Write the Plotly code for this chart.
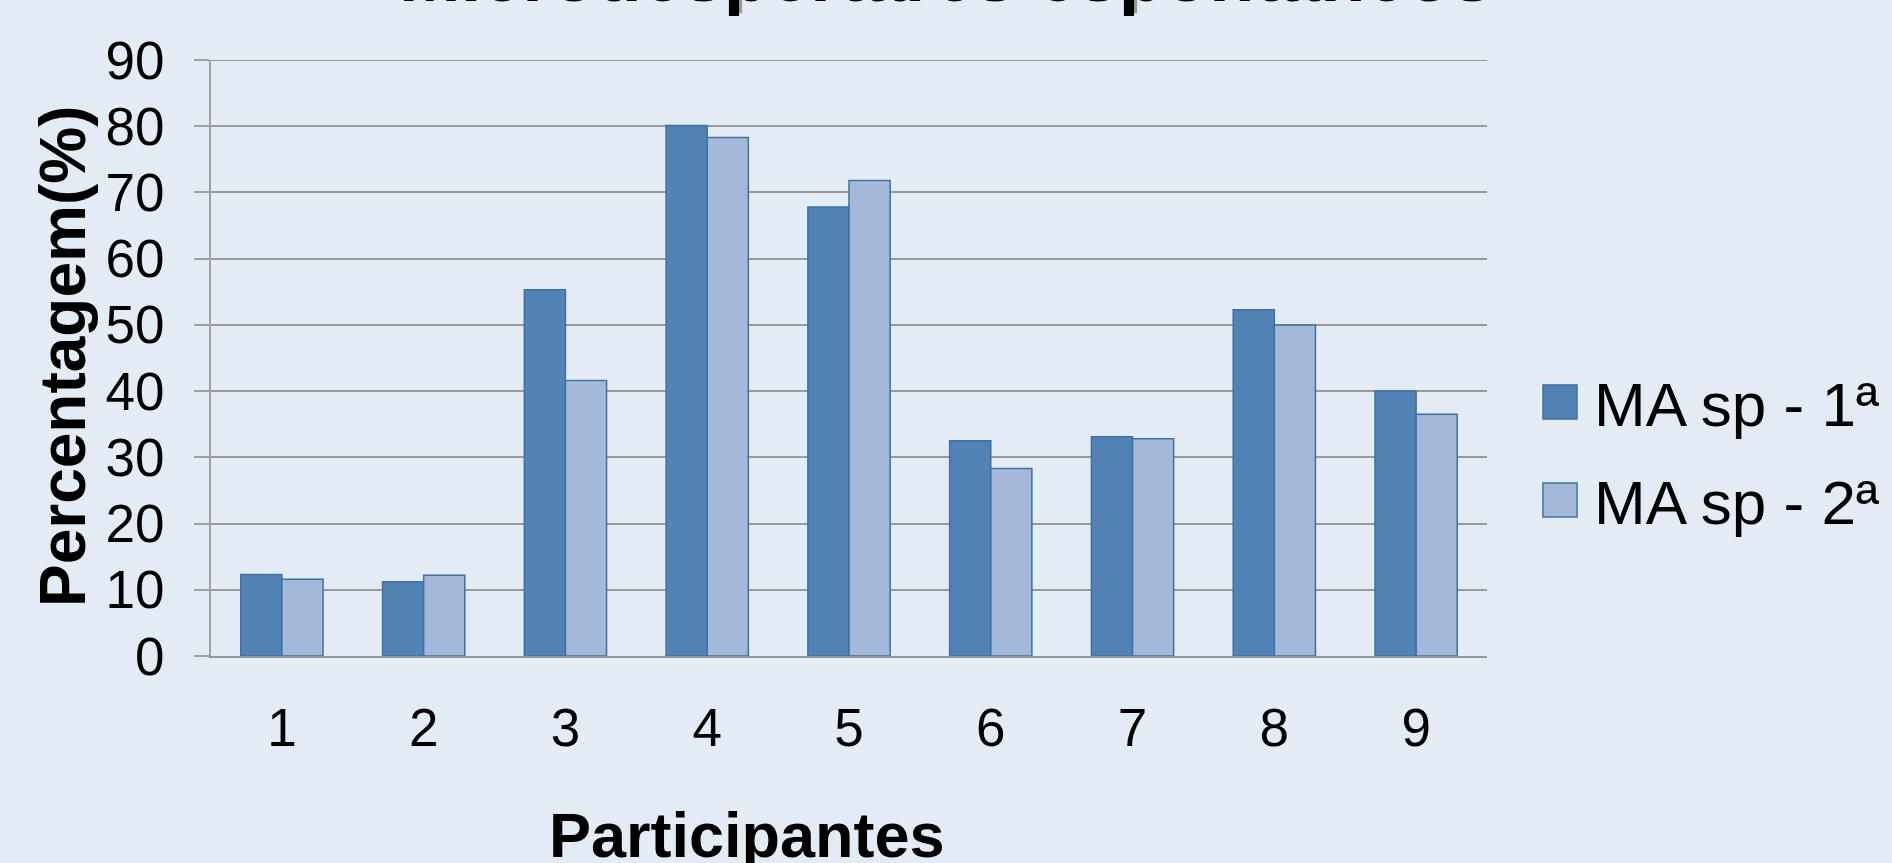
import plotly.graph_objects as go

categories = ["1", "2", "3", "4", "5", "6", "7", "8", "9"]
series_names = ["MA sp - 1ª", "MA sp - 2ª"]
ma_sp_1 = [12.3, 11.2, 55.3, 80.1, 67.8, 32.5, 33.1, 52.3, 40.0]
ma_sp_2 = [11.6, 12.2, 41.6, 78.3, 71.8, 28.3, 32.8, 50.0, 36.5]
y_ticks = [0, 10, 20, 30, 40, 50, 60, 70, 80, 90]

fill_colors = ["#5283B7", "#A4B8D9"]
edge_color = "#41709F"
bg = "#E3EBF5"
grid_color = "#999999"

W, H = 1892, 863
L, R, T, B = 211, 405, 60, 207
pw, ph = W - L - R, H - T - B

def px_x(x):
    return (x - L) / pw

def px_y(y):
    return (H - B - y) / ph

fig = go.Figure()
for name, vals, col in zip(series_names, [ma_sp_1, ma_sp_2], fill_colors):
    fig.add_trace(go.Bar(
        x=categories, y=vals, name=name, showlegend=False,
        marker=dict(color=col, line=dict(color=edge_color, width=1.5)),
    ))

font_family = "Liberation Sans, Arial, sans-serif"

fig.update_layout(
    width=W, height=H,
    margin=dict(l=L, r=R, t=T, b=B, autoexpand=False),
    paper_bgcolor=bg, plot_bgcolor=bg,
    barmode="group", bargap=0.42, bargroupgap=0,
    font=dict(family=font_family, color="#000000"),
    xaxis=dict(
        type="category", range=[-0.5, 8.5],
        showgrid=False, showline=True, linecolor="#969696", linewidth=2,
        ticks="", tickfont=dict(size=53), ticklabelstandoff=24,
        zeroline=False,
    ),
    yaxis=dict(
        range=[0, 90], tickvals=y_ticks, ticktext=[str(v) for v in y_ticks],
        showgrid=True, gridcolor=grid_color, gridwidth=2,
        showline=True, linecolor="#A0A0A0", linewidth=2,
        ticks="outside", ticklen=15, tickcolor="#A0A0A0", tickwidth=2,
        tickfont=dict(size=53), ticklabelstandoff=19,
        zeroline=False,
    ),
)

annotations = []
# Title (cut off at the top of the image) with a soft shadow
title_text = "<b>Microdespertares espontâneos</b>"
annotations.append(dict(
    text=title_text, xref="paper", yref="paper",
    x=px_x(W / 2 + 3), y=px_y(-25 - 3), xanchor="center", yanchor="middle",
    showarrow=False, font=dict(size=74, color="rgba(90,90,90,0.55)", family=font_family),
))
annotations.append(dict(
    text=title_text, xref="paper", yref="paper",
    x=px_x(W / 2), y=px_y(-25), xanchor="center", yanchor="middle",
    showarrow=False, font=dict(size=74, color="#000000", family=font_family),
))
# Axis titles
annotations.append(dict(
    text="<b>Percentagem(%)</b>", xref="paper", yref="paper",
    x=px_x(63), y=px_y(356), xanchor="center", yanchor="middle", textangle=-90,
    showarrow=False, font=dict(size=64, color="#000000", family=font_family),
))
annotations.append(dict(
    text="<b>Participantes</b>", xref="paper", yref="paper",
    x=px_x(747), y=px_y(835), xanchor="center", yanchor="middle",
    showarrow=False, font=dict(size=63, color="#000000", family=font_family),
))

shapes = []
# Top gridline at the range edge (Plotly omits it at the boundary)
shapes.append(dict(
    type="line", xref="paper", yref="y", x0=0, x1=1, y0=y_ticks[-1], y1=y_ticks[-1],
    line=dict(color=grid_color, width=2), layer="below",
))

# Legend (drawn manually to match the large markers)
legend_rows_y = [402, 500]
for name, col, yc in zip(series_names, fill_colors, legend_rows_y):
    shapes.append(dict(
        type="rect", xref="paper", yref="paper",
        x0=px_x(1543), x1=px_x(1577), y0=px_y(yc + 17), y1=px_y(yc - 17),
        fillcolor=col, line=dict(color=edge_color, width=1.5),
    ))
    annotations.append(dict(
        text=name, xref="paper", yref="paper",
        x=px_x(1592), y=px_y(yc + 2), xanchor="left", yanchor="middle",
        showarrow=False, font=dict(size=62, color="#000000", family=font_family),
    ))

fig.update_layout(annotations=annotations, shapes=shapes)
fig.write_html("out.html")
